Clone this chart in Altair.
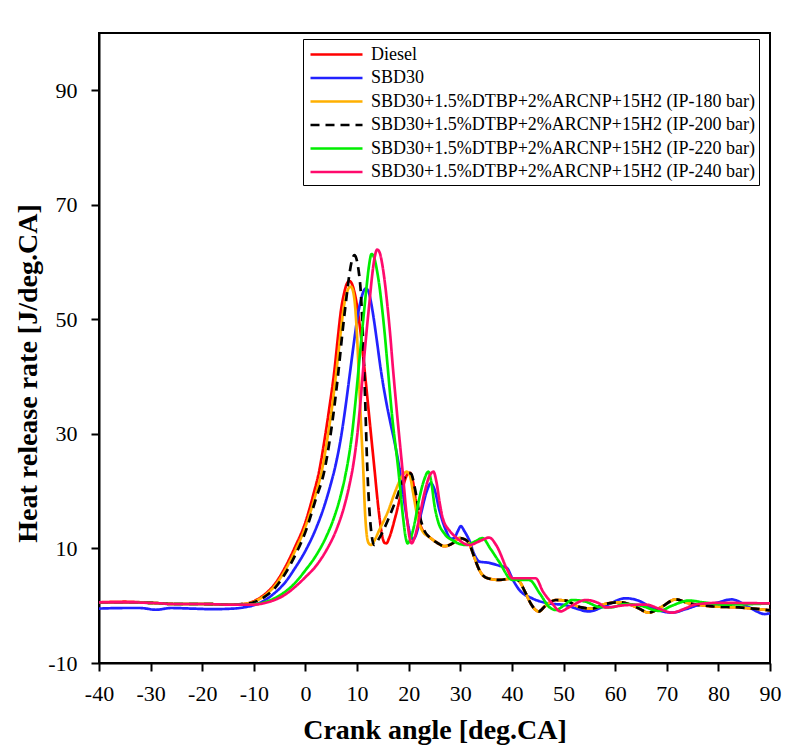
import altair as alt
import pandas as pd

# Heat release rate vs crank angle for diesel, SBD30 and the DTBP/ARCNP/H2 blends
SERIES = [
    "Diesel",
    "SBD30",
    "SBD30+1.5%DTBP+2%ARCNP+15H2 (IP-180 bar)",
    "SBD30+1.5%DTBP+2%ARCNP+15H2 (IP-200 bar)",
    "SBD30+1.5%DTBP+2%ARCNP+15H2 (IP-220 bar)",
    "SBD30+1.5%DTBP+2%ARCNP+15H2 (IP-240 bar)",
]
COLORS = ["#ff0000", "#2222ff", "#ffb000", "#000000", "#00ee00", "#ff0a6c"]
DASHES = [[1, 0], [1, 0], [1, 0], [9, 6], [1, 0], [1, 0]]

diesel_x = [-40, -35, -30, -25, -20, -15, -12, -10, -8, -6, -4, -2, 0, 1.5, 2.7, 3.7, 4.7,
            5.6, 6.3, 6.9, 7.5, 8.0, 8.5, 9.0, 9.5, 10.0, 10.6, 11.3, 12.3, 13.3, 14.2,
            14.8, 15.3, 15.7, 16.2, 17.5, 18.8, 19.8, 20.3, 20.8, 21.5, 22.2, 23, 24,
            25.5, 26.9, 28.5, 29.8, 30.8, 31.7, 32.7, 33.7, 35, 37.5, 40.4, 41.5, 42.5,
            43.7, 44.6, 45.2, 46.5, 48.5, 50.4, 53, 55.6, 58, 61, 64, 66.5, 69, 71.7, 74,
            78.8, 84, 90]
diesel_y = [0.6, 0.7, 0.5, 0.3, 0.3, 0.2, 0.3, 0.8, 1.9, 3.7, 6.6, 10.3, 14.6, 19.3, 23.7,
            29, 35, 41, 47, 51.7, 54.6, 56.2, 56.7, 56.2, 54.7, 52.3, 48.3, 42.5, 33.5,
            24.5, 16.5, 12.5, 11.0, 10.9, 11.8, 15.8, 20.5, 23, 23.2, 21.8, 17.5, 14.3,
            12.8, 12, 11, 10.4, 10.9, 11.8, 11.6, 10.9, 8.5, 6.2, 4.9, 4.5, 4.8, 4.2, 2.5,
            0.3, -0.75, -1.0, 0, 1.0, 0.9, -0.2, -0.5, 0.3, 0.6, -0.2, -1.2, -0.2, 1.1,
            0.5, -0.1, -0.3, -0.8]

sbd30_x = [-40, -35, -32, -29, -26, -22, -18, -14, -12, -10, -8, -6, -4, -2, 0, 2, 3.5,
           4.8, 5.9, 6.9, 7.8, 8.6, 9.4, 10.1, 10.8, 11.3, 11.7, 12.2, 12.7, 13.2, 13.8,
           14.6, 15.5, 16.4, 17.3, 18.2, 19.0, 19.8, 20.4, 20.9, 21.5, 22.5, 23.5, 24.3,
           25, 26, 27.2, 28.2, 28.8, 29.5, 30.1, 30.8, 31.7, 32.7, 33.7, 35.5, 37.5, 39,
           40.2, 41.4, 43.9, 47.2, 50.4, 52.5, 54.9, 58.1, 62, 64.5, 67, 71, 74, 77, 79,
           82.6, 86, 89, 90]
sbd30_y = [-0.5, -0.4, -0.4, -0.7, -0.4, -0.5, -0.6, -0.5, -0.3, 0.1, 0.9, 2.2, 4.0, 6.6,
           9.6, 13.4, 17, 20.9, 24.8, 29.5, 35, 40.5, 46, 50.5, 53.6, 55, 55.4, 54.9,
           53.0, 50.3, 46.5, 41.2, 36.3, 32.2, 28.4, 24, 19, 14.5, 12.2, 11.6, 12.6,
           16.5, 20, 21.4, 20.3, 16.5, 13.2, 11.7, 11.8, 13, 13.9, 13, 11.5, 9, 7.7, 7.5,
           7.0, 6.6, 4.5, 2.8, 1.3, 0.4, 0.1, -0.5, -1.0, 0.0, 1.3, 0.9, -0.3, -1.2,
           -0.5, 0.3, 0.4, 1.1, -0.3, -1.45, -1.3]

ip180_x = [-40, -35, -30, -25, -20, -15, -12, -10, -8, -6, -4, -2, 0, 1.8, 3.2, 4.3, 5.2,
           6.0, 6.8, 7.4, 8.0, 8.5, 8.8, 9.2, 9.6, 10.0, 10.3, 10.8, 11.2, 11.5, 11.8,
           12.2, 12.7, 13.3, 14.3, 16, 17.5, 18.7, 19.6, 20.2, 20.8, 21.7, 22.7, 24,
           25.5, 26.9, 28.5, 29.8, 30.8, 31.7, 32.7, 33.7, 35, 37.5, 40.4, 41.5, 42.5,
           43.7, 44.6, 45.2, 46.5, 48.5, 50.4, 53, 55.6, 58, 61, 64, 66.5, 69, 71.7, 74,
           78.8, 84, 90]
ip180_y = [0.6, 0.6, 0.5, 0.3, 0.3, 0.2, 0.3, 0.7, 1.7, 3.4, 6.1, 9.6, 13.8, 18.9, 23.7,
           29.5, 35, 41, 47.5, 52, 54.6, 55.6, 55.7, 55.0, 52.5, 47, 41, 31, 23.7, 17,
           13, 11.0, 10.6, 11.3, 13.2, 16.5, 20.2, 22.6, 23.4, 22.8, 20, 15.5, 13, 12,
           11, 10.4, 10.9, 11.8, 11.6, 10.9, 8.5, 6.2, 4.9, 4.5, 4.8, 4.2, 2.5, 0.3,
           -0.75, -1.0, 0, 1.0, 0.9, -0.2, -0.5, 0.3, 0.6, -0.2, -1.2, -0.2, 1.1, 0.5,
           -0.1, -0.3, -0.8]

ip200_x = [-40, -35, -30, -25, -20, -15, -12, -10, -8, -6, -4, -2, 0, 2, 3.7, 4.8, 5.7,
           6.4, 7.2, 7.9, 8.5, 9.0, 9.5, 9.9, 10.3, 10.7, 11.0, 11.3, 11.6, 11.9, 12.3,
           12.8, 13.3, 14.3, 16, 17.5, 19, 20.0, 20.5, 21.2, 22.2, 23.1, 24, 25.5, 26.9,
           28.5, 29.8, 30.8, 31.7, 32.7, 33.7, 35, 37.5, 40.4, 41.5, 42.5, 43.7, 44.6,
           45.2, 46.5, 48.5, 50.4, 53, 55.6, 58, 61, 64, 66.5, 69, 71.7, 74, 78.8, 84, 90]
ip200_y = [0.6, 0.6, 0.5, 0.3, 0.3, 0.2, 0.3, 0.6, 1.5, 3.0, 5.5, 8.8, 12.9, 18.6, 23.7,
           29.5, 35.5, 41, 48, 53.5, 57.8, 60.3, 61.2, 60.5, 58.5, 55, 50, 43, 35, 26,
           18, 12.5, 10.6, 11.8, 15, 18.4, 22, 23.2, 23.0, 20.5, 15.5, 13, 12, 11, 10.4,
           10.9, 11.8, 11.6, 10.9, 8.5, 6.2, 4.9, 4.5, 4.8, 4.2, 2.5, 0.3, -0.75, -1.0,
           0, 1.0, 0.9, -0.2, -0.5, 0.3, 0.6, -0.2, -1.2, -0.2, 1.1, 0.5, -0.1, -0.3,
           -0.8]

ip220_x = [-40, -35, -30, -25, -20, -15, -12, -10, -8, -6, -4, -2, 0, 2, 4, 5.5, 6.7, 7.6,
           8.3, 9.0, 9.6, 10.2, 10.8, 11.4, 11.9, 12.3, 12.8, 13.3, 13.8, 14.3, 14.8,
           15.3, 15.9, 16.8, 18, 18.9, 19.4, 19.8, 20.3, 21, 22, 23, 23.8, 24.4, 25.0,
           25.6, 27, 28.5, 31.1, 32.8, 34.3, 35.8, 37.5, 40.1, 43.3, 45.5, 47.2, 48.5,
           50, 51.7, 54.3, 56.9, 59, 62, 65, 68.5, 71, 74.3, 77, 81, 90]
ip220_y = [0.6, 0.6, 0.5, 0.3, 0.3, 0.2, 0.2, 0.25, 0.6, 1.3, 2.4, 4.0, 6.2, 8.7, 12.0,
           15.3, 18.8, 22.2, 25.5, 29.8, 34.8, 40.5, 46.3, 51.8, 56.2, 59.3, 61.4, 60.8,
           58.8, 56, 52.3, 48, 42, 33, 23.7, 15.5, 12.0, 10.9, 11.6, 13.8, 18.5, 22,
           23.4, 21.5, 17.5, 15, 12.5, 11.4, 10.6, 11.2, 11.8, 10, 7.7, 4.5, 4.5, 2,
           -0.2, -0.75, 0, 1.0, 0.7, -0.2, -0.3, 0.3, 0.0, -0.9, 0, 0.9, 0.6, 0.2, 0.4]

ip240_x = [-40, -35, -30, -25, -20, -15, -12, -10, -8, -6, -4, -2, 0, 2, 4, 6, 7.5, 8.5,
           9.3, 10.0, 10.6, 11.2, 11.8, 12.4, 12.9, 13.4, 13.9, 14.4, 14.9, 15.4, 15.9,
           16.4, 16.9, 17.8, 18.8, 19.7, 20.2, 20.6, 21.1, 21.8, 23, 24.0, 24.8, 25.4,
           26.0, 26.6, 28, 29.1, 31.7, 33.8, 35.6, 37, 39.1, 40.1, 44.6, 46, 47.8, 49.4,
           51, 54.3, 56.9, 58.2, 62, 65.9, 68.5, 71, 73.5, 75.5, 80, 90]
ip240_y = [0.6, 0.6, 0.5, 0.3, 0.3, 0.2, 0.2, 0.2, 0.45, 1.0, 1.9, 3.3, 5.0, 6.9, 9.6,
           13.3, 17.3, 21.0, 24.8, 29.5, 35, 41.5, 47.5, 53, 57.5, 60.8, 62.2, 61.6,
           59.5, 56.3, 52.2, 47.5, 42, 33, 23.7, 15, 11.8, 10.9, 11.8, 14.2, 19.5, 22.6,
           23.4, 21.5, 18, 15.3, 13, 12, 10.6, 11.3, 11.9, 10.5, 6.3, 4.8, 4.8, 2.5, 0.4,
           -1.0, -0.3, 1.0, 0.4, -0.3, 0.1, 0.2, -0.5, -1.2, -0.5, 0.2, 0.5, 0.4]

XS = [diesel_x, sbd30_x, ip180_x, ip200_x, ip220_x, ip240_x]
YS = [diesel_y, sbd30_y, ip180_y, ip200_y, ip220_y, ip240_y]

rows = []
for order, (name, xs, ys) in enumerate(zip(SERIES, XS, YS)):
    for a, h in zip(xs, ys):
        rows.append({"series": name, "order": order, "angle": a, "hrr": h})
df = pd.DataFrame(rows)

FONT = "Liberation Serif"

# wide horizontal line as the legend key (custom path is scaled by sqrt(size)/2)
legend = alt.Legend(
    title=None,
    orient="none",
    legendX=204,
    legendY=6,
    symbolType="M-2.6,0L2.6,0",
    symbolSize=400,
    symbolStrokeWidth=2.5,
    symbolOffset=18,
    labelOffset=23,
    labelFont=FONT,
    labelFontSize=18,
    labelColor="black",
    strokeColor="black",
    fillColor="white",
    padding=4,
    rowPadding=2.5,
    labelLimit=600,
)

chart = (
    alt.Chart(df)
    .mark_line(interpolate="monotone", strokeWidth=2.7)
    .encode(
        x=alt.X(
            "angle:Q",
            scale=alt.Scale(domain=[-40, 90], nice=False),
            axis=alt.Axis(
                values=list(range(-40, 91, 10)),
                labelExpr="'' + datum.value",
                labelFlush=False,
                labelOverlap=False,
                title="Crank angle [deg.CA]",
                titlePadding=12,
            ),
        ),
        y=alt.Y(
            "hrr:Q",
            scale=alt.Scale(domain=[-10, 100], nice=False),
            axis=alt.Axis(
                values=[-10, 10, 30, 50, 70, 90],
                labelExpr="'' + datum.value",
                labelFlush=False,
                labelOverlap=False,
                title="Heat release rate [J/deg.CA]",
                titlePadding=5,
                titleY=340,
            ),
        ),
        color=alt.Color(
            "series:N",
            scale=alt.Scale(domain=SERIES, range=COLORS),
            sort=SERIES,
            legend=legend,
        ),
        strokeDash=alt.StrokeDash(
            "series:N",
            scale=alt.Scale(domain=SERIES, range=DASHES),
            sort=SERIES,
            legend=legend,
        ),
        order=alt.Order("order:Q"),
        detail="series:N",
    )
    .properties(
        width=671,
        height=630,
        autosize=alt.AutoSizeParams(type="none"),
        padding={"left": 99, "top": 33, "right": 27, "bottom": 93},
    )
    .configure_view(stroke="black", strokeWidth=2)
    .configure_axis(
        grid=False,
        domainColor="black",
        domainWidth=2,
        tickColor="black",
        tickWidth=2,
        tickSize=8,
        labelFont=FONT,
        labelFontSize=22,
        labelColor="black",
        labelPadding=12,
        titleFont=FONT,
        titleFontSize=28,
        titleFontWeight="bold",
        titleColor="black",
    )
    .configure_axisY(labelPadding=14)
)

chart.save("out.html", embed_options={"renderer": "svg", "actions": False})
